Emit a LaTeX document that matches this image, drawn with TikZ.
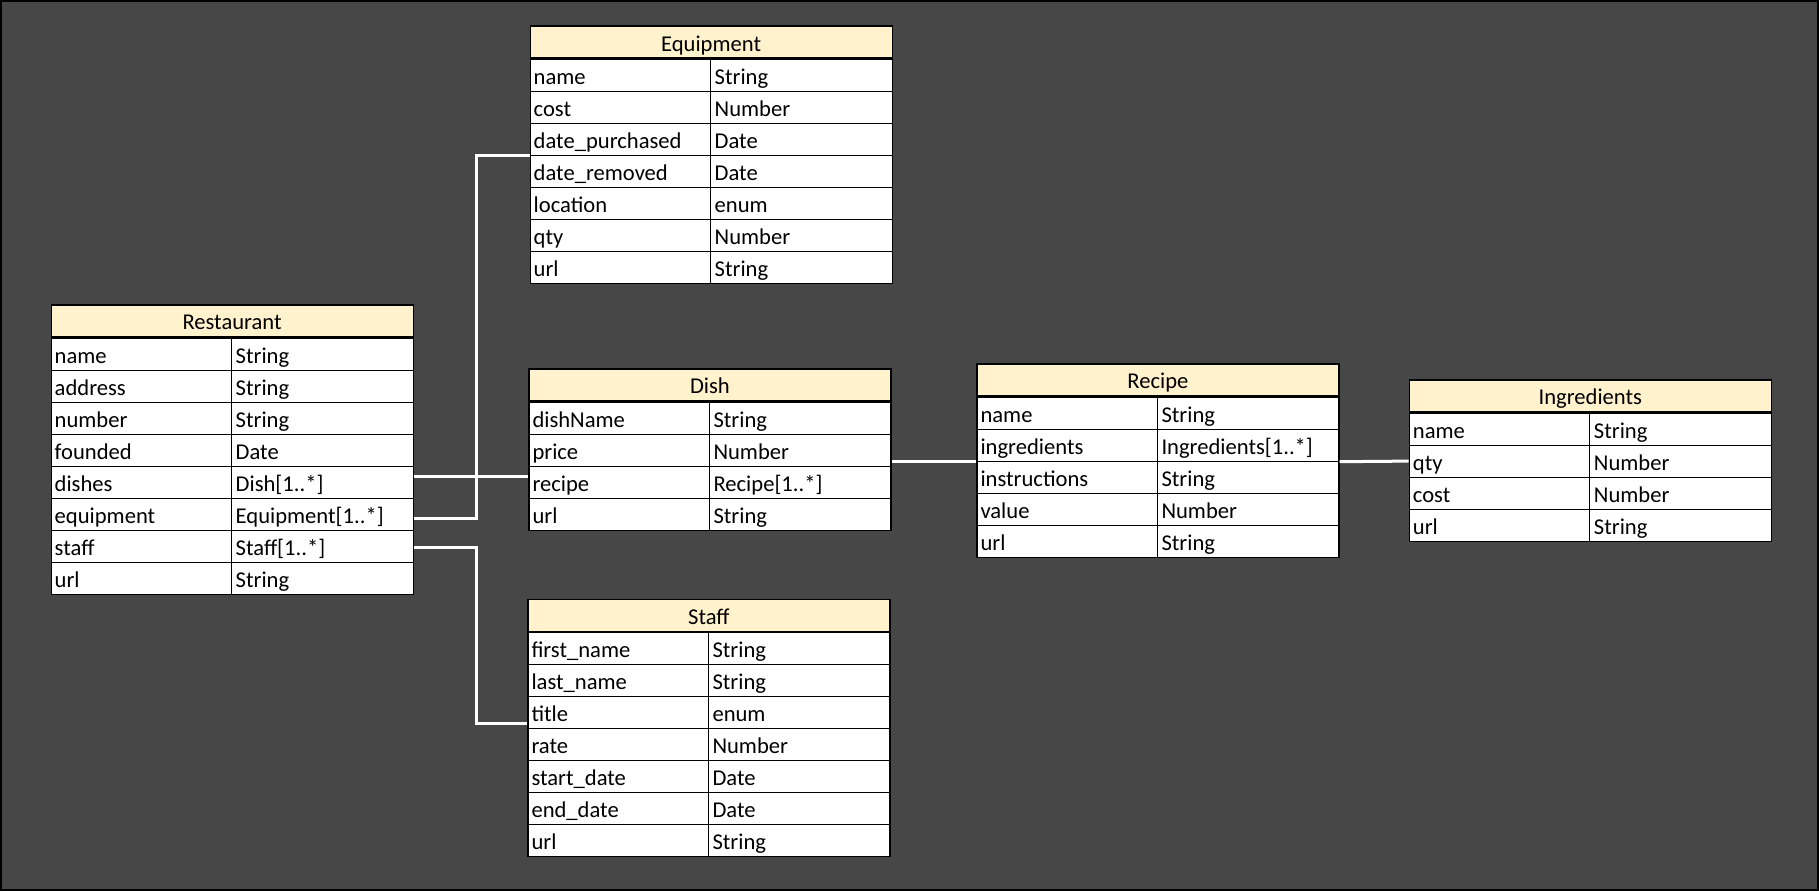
\documentclass[tikz,border=0pt]{standalone}
\usepackage{fontspec}
\setmainfont{Carlito}
\definecolor{bggray}{RGB}{71,71,71}
\definecolor{headyellow}{RGB}{255,242,204}
\newcommand{\erbox}[5]{%
  \node[head] (#1) at (#2,#3) {#4};
  \foreach \fld/\typ [count=\i] in {#5} {
    \node[cell] (#1-\i) at ([yshift={-32*(\i-1)*1pt}]#1.south west) {};
    \draw[rule] ([xshift=181pt]#1-\i.north west) -- ([xshift=181pt]#1-\i.south west);
    \node[txt] at ([shift={(4pt,7pt)}]#1-\i.south west) {\fld};
    \node[txt] at ([shift={(185pt,7pt)}]#1-\i.south west) {\typ};
  }
}
\begin{document}
\begin{tikzpicture}[x=1pt,y=-1pt,
  every node/.style={font=\fontsize{22.6}{27}\selectfont},
  head/.style={draw,line width=1.2pt,fill=headyellow,anchor=north west,inner sep=0,
    minimum width=362pt,minimum height=32pt,text height=18pt,text depth=0pt},
  cell/.style={draw,line width=1.2pt,fill=white,anchor=north west,inner sep=0,
    minimum width=362pt,minimum height=32pt},
  rule/.style={line width=1.2pt},
  txt/.style={anchor=base west,inner sep=0},
  link/.style={draw=white,line width=3pt}]
  \fill[black] (0,0) rectangle (1819,891);
  \fill[bggray] (2,2) rectangle (1817,889);
  \erbox{rest}{50.5}{304.3}{Restaurant}{name/String, address/String, number/String, founded/Date,
    dishes/{Dish[1..*]}, equipment/{Equipment[1..*]}, staff/{Staff[1..*]}, url/String}
  \erbox{equip}{529.5}{25.5}{Equipment}{name/String, cost/Number, date\_purchased/Date,
    date\_removed/Date, location/enum, qty/Number, url/String}
  \erbox{dish}{528.3}{368.3}{Dish}{dishName/String, price/Number, recipe/{Recipe[1..*]}, url/String}
  \erbox{rec}{976.3}{363.3}{Recipe}{name/String, ingredients/{Ingredients[1..*]},
    instructions/String, value/Number, url/String}
  \erbox{ingr}{1408.7}{379.3}{Ingredients}{name/String, qty/Number, cost/Number, url/String}
  \erbox{staff}{527.3}{598.5}{Staff}{first\_name/String, last\_name/String, title/enum,
    rate/Number, start\_date/Date, end\_date/Date, url/String}
  \draw[link] ([yshift=5.3pt]rest-5.east) -- ([yshift=5.3pt]dish-3.west);
  \draw[link] ([yshift=-4.4pt]rest-6.east) -- ++(62.7pt,0) |- (equip-3.south west);
  \draw[link] ([yshift=-1.4pt]rest-7.east) -- ++(62.7pt,0) |- ([yshift=-11pt]staff-3.west);
  \draw[link] (dish-2.east |- rec-2.south) -- (rec-2.south west);
  \draw[link] (rec-2.south east) -- (ingr-2.west);
\end{tikzpicture}
\end{document}
